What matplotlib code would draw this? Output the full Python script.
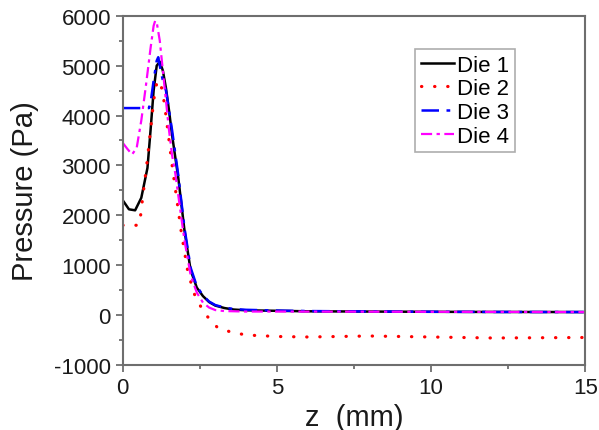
import matplotlib
matplotlib.use("Agg")
import matplotlib.pyplot as plt
from matplotlib.ticker import MultipleLocator

plt.rcParams['font.family'] = ['Liberation Sans', 'DejaVu Sans']
plt.rcParams['axes.unicode_minus'] = False

z1 = [0, 0.2, 0.4, 0.6, 0.8, 0.9, 1.0, 1.1, 1.2, 1.3, 1.4, 1.5, 1.6, 1.8, 2.0, 2.2, 2.4, 2.6,
      2.8, 3.0, 3.3, 3.6, 4, 5, 6, 8, 10, 12, 15]
p1 = [2300, 2120, 2100, 2350, 2950, 3700, 4500, 5000, 5080, 4900, 4550, 4100, 3600, 2750, 1700,
      900, 550, 380, 260, 190, 140, 110, 95, 85, 75, 70, 65, 62, 60]

z2 = [0, 0.5, 0.55, 0.65, 0.77, 0.9, 1.0, 1.1, 1.2, 1.3, 1.4, 1.5, 1.6, 1.8, 1.9, 2.1,
      2.3, 2.45, 2.7, 3.07, 3.5, 4, 5, 6, 8, 10, 12, 15]
p2 = [1800, 1800, 1850, 2380, 2980, 3700, 4300, 4650, 4700, 4450, 4000, 3500, 3000, 2100,
      1650, 900, 450, 250, 0, -250, -340, -400, -430, -440, -420, -440, -460, -450]

z3 = [0, 0.85, 0.9, 1.0, 1.1, 1.15, 1.2, 1.3, 1.4, 1.6, 1.8, 2.0, 2.2, 2.4, 2.6, 2.8,
      3.0, 3.3, 3.6, 4, 5, 6, 8, 10, 12, 15]
p3 = [4150, 4150, 4250, 4700, 5100, 5170, 5000, 4700, 4500, 3700, 2800, 1750, 950, 580,
      390, 270, 200, 150, 120, 105, 90, 80, 72, 66, 62, 60]

z4 = [0, 0.15, 0.3, 0.45, 0.6, 0.75, 0.9, 1.0, 1.05, 1.1, 1.2, 1.3, 1.4, 1.5, 1.6, 1.7,
      1.8, 2.0, 2.2, 2.4, 2.6, 2.8, 3.0, 3.3, 4, 5, 10, 15]
p4 = [3450, 3330, 3220, 3350, 3900, 4600, 5350, 5800, 5900, 5870, 5500, 4900, 4300, 3700,
      3200, 2850, 2400, 1500, 800, 450, 250, 150, 100, 80, 70, 70, 65, 60]

fig = plt.figure(figsize=(5.99, 4.31), dpi=100)
ax = fig.add_axes([0.205, 0.151, 0.772, 0.810])

ax.plot(z1, p1, color='black', lw=1.8, label='Die 1')
ax.plot(z2, p2, color='red', lw=2.3, linestyle=(0, (0.1, 4.0)), dash_capstyle='round', label='Die 2')
ax.plot(z3, p3, color='blue', lw=1.8, linestyle=(0, (7, 3, 1.5, 3)), label='Die 3')
ax.plot(z4, p4, color='magenta', lw=1.6, linestyle=(0, (5, 2, 1.5, 2)), label='Die 4')

ax.set_xlim(0, 15)
ax.set_ylim(-1000, 6000)
ax.xaxis.set_major_locator(MultipleLocator(5))
ax.xaxis.set_minor_locator(MultipleLocator(2.5))
ax.yaxis.set_major_locator(MultipleLocator(1000))
ax.yaxis.set_minor_locator(MultipleLocator(500))

for s in ax.spines.values():
    s.set_color('#6e6e6e')
    s.set_linewidth(1.5)
ax.tick_params(which='both', direction='out', colors='#6e6e6e', labelcolor='#1a1a1a',
               labelsize=16, width=1.3)
ax.tick_params(which='major', length=5)
ax.tick_params(which='minor', length=3)

ax.set_xlabel('z  (mm)', fontsize=21, color='#1a1a1a', labelpad=4)
ax.set_ylabel('Pressure (Pa)', fontsize=21, color='#1a1a1a', labelpad=11)

leg = ax.legend(loc='upper left', bbox_to_anchor=(0.632, 0.905), fontsize=16, frameon=True,
                fancybox=False, edgecolor='#999999', handlelength=1.5, handletextpad=0.15,
                borderpad=0.25, labelspacing=0.12, borderaxespad=0)
leg.get_frame().set_linewidth(1.2)

fig.savefig('out.png', dpi=100)
